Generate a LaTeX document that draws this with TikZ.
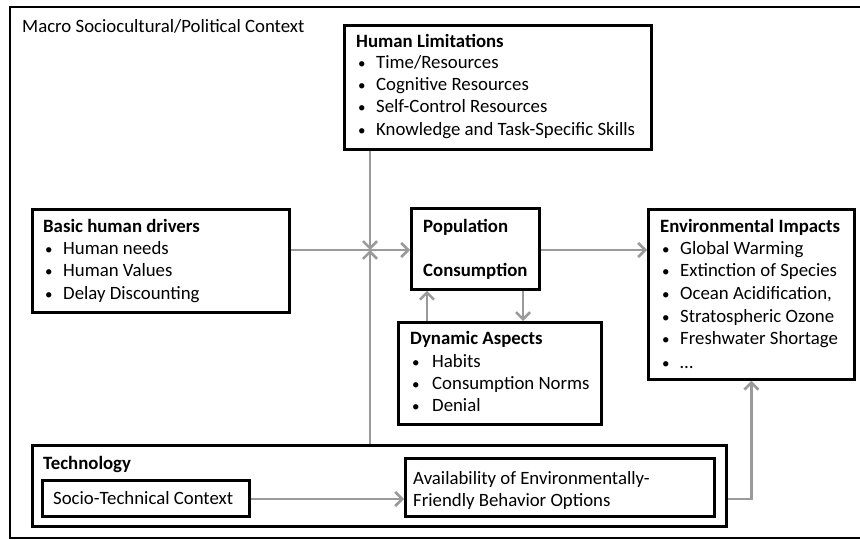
\documentclass[tikz,border=0pt]{standalone}
\usepackage{fontspec}
\setmainfont{Carlito}
\usetikzlibrary{arrows.meta}
\definecolor{arrgray}{HTML}{9A9A9A}
\newcommand{\fs}{\fontsize{18.8}{22}\selectfont}
\tikzset{
  box/.style={draw=black, line width=2.8pt, rectangle, inner sep=0pt, anchor=north west},
  txt/.style={anchor=mid west, inner sep=0pt, font=\fs, yshift=-2.5pt},
  bul/.style={anchor=mid west, inner sep=0pt, font=\fontsize{15}{18}\selectfont, yshift=-2.5pt},
  ttl/.style={anchor=mid west, inner sep=0pt, font=\fs\bfseries, yshift=-2.5pt},
  arr/.style={draw=arrgray, line width=2.8pt, -{Straight Barb[length=7pt,width=14pt,line width=2.6pt]}},
}
\begin{document}
\begin{tikzpicture}[x=1pt,y=-1pt]
\useasboundingbox (0,0) rectangle (860,540);
% outer frame (right side runs off the picture)
\draw[line width=2.6pt] (860,7) -- (10,7) -- (10,538) -- (860,538);
\node[txt] (macro) at (22,28) {Macro Sociocultural/Political Context};

% Human limitations
\node[box, minimum width=307pt, minimum height=124pt] (hl) at (343,24) {};
\node[ttl] (hlt) at (356,43) {Human Limitations};
\foreach \yy/\tt [count=\i] in {64/{Time/Resources},86/Cognitive Resources,108/Self-Control Resources,131/Knowledge and Task-Specific Skills}{
  \node[bul] (hlb\i) at (358,\yy) {•};
  \node[txt] (hlx\i) at (376,\yy) {\tt};
}

% Basic human drivers
\node[box, minimum width=257pt, minimum height=103pt] (drv) at (31,208) {};
\node[ttl] (drvt) at (43,228) {Basic human drivers};
\foreach \yy/\tt [count=\i] in {250/Human needs,272/Human Values,295/Delay Discounting}{
  \node[bul] (drvb\i) at (45,\yy) {•};
  \node[txt] (drvx\i) at (63,\yy) {\tt};
}

% Population / Consumption
\node[box, minimum width=128pt, minimum height=81pt] (pop) at (410,207) {};
\node[ttl] (popa) at (423,228) {Population};
\node[ttl] (popb) at (423,272) {Consumption};

% Environmental impacts
\node[box, minimum width=206pt, minimum height=170pt] (env) at (647,208) {};
\node[ttl] (envt) at (660,228) {Environmental Impacts};
\foreach \yy/\tt [count=\i] in {250/Global Warming,272/Extinction of Species,295/{Ocean Acidification,},318/Stratospheric Ozone,340/Freshwater Shortage,364/…}{
  \node[bul] (envb\i) at (662,\yy) {•};
  \node[txt] (envx\i) at (680,\yy) {\tt};
}

% Dynamic aspects
\node[box, minimum width=203pt, minimum height=102pt] (dyn) at (397,321) {};
\node[ttl] (dynt) at (410,340) {Dynamic Aspects};
\foreach \yy/\tt [count=\i] in {363/Habits,385/Consumption Norms,407/Denial}{
  \node[bul] (dynb\i) at (412,\yy) {•};
  \node[txt] (dynx\i) at (432,\yy) {\tt};
}

% Technology
\node[box, minimum width=694pt, minimum height=81pt] (tech) at (31,444) {};
\node[ttl] (techt) at (43,465) {Technology};
\node[box, minimum width=207pt, minimum height=36pt] (stc) at (41,479) {};
\node[txt] (stct) at (53,500) {Socio-Technical Context};
\node[box, minimum width=309pt, minimum height=58pt] (avail) at (404,457) {};
\node[txt, align=left, anchor=west, font=\fontsize{18.8}{21.5}\selectfont] (availt) at (413,488) {Availability of Environmentally-\\Friendly Behavior Options};

% connectors
\coordinate (j) at (370,250);
\coordinate (pd) at (523,300);
\coordinate (pu) at (427,300);
\coordinate (ty) at (300,499);
\draw[arr] (drv.east |- j) -- (pop.west |- j);
\draw[arr] (hl.south -| j) -- (j);
\draw[arr] (tech.north -| j) -- (j);
\draw[arr] (pop.east |- j) -- (env.west |- j);
\draw[arr] (pop.south -| pd) -- (dyn.north -| pd);
\draw[arr] (dyn.north -| pu) -- (pop.south -| pu);
\draw[arr] (stc.east |- ty) -- (avail.west |- ty);
\draw[arr] (tech.east |- ty) -| (env.south);
\end{tikzpicture}
\end{document}
